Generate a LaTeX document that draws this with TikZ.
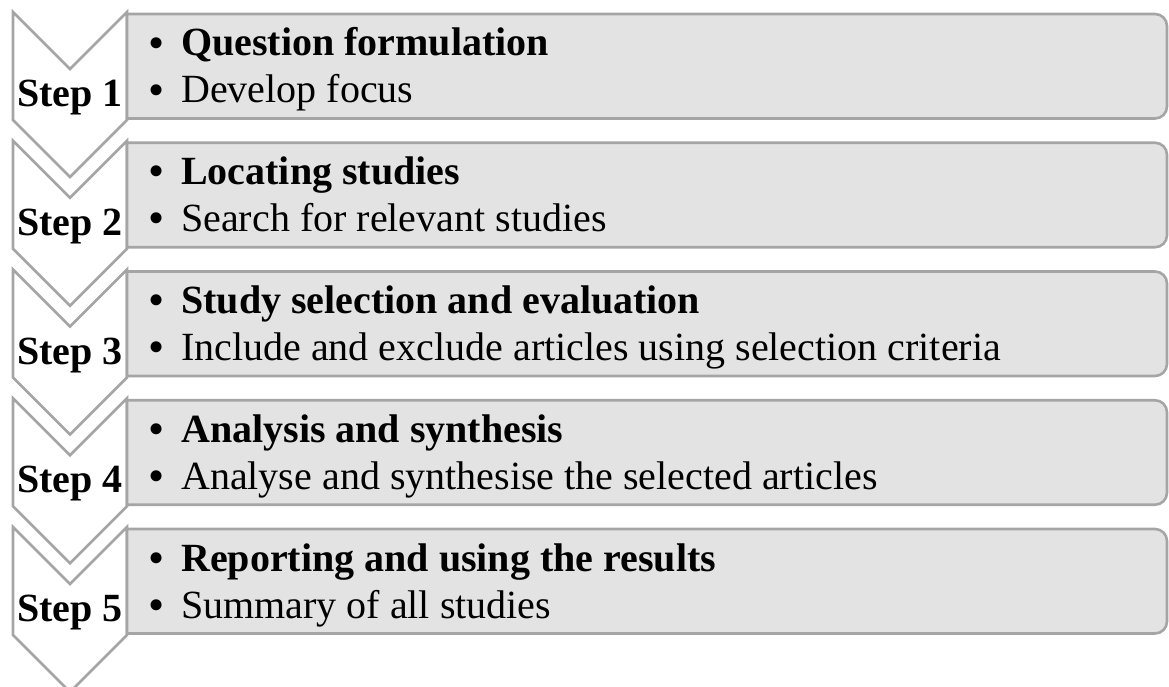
\documentclass[tikz,border=0pt]{standalone}
\usepackage{fontspec}
\setmainfont{Liberation Serif}
\definecolor{edgegray}{HTML}{A5A5A5}
\definecolor{boxgray}{HTML}{E3E3E3}
\begin{document}
\begin{tikzpicture}[x=1pt,y=-1pt,
  chevron/.style={draw=edgegray,fill=white,line width=2.6pt,line join=miter},
  itembox/.style={draw=edgegray,fill=boxgray,line width=2.6pt},
  steplabel/.style={anchor=base,inner sep=0pt,font=\fontsize{40}{48}\selectfont\bfseries},
  bulletmark/.style={anchor=base,inner sep=0pt,font=\fontsize{46}{52}\selectfont},
  headtext/.style={anchor=base west,inner sep=0pt,font=\fontsize{40}{48}\selectfont\bfseries},
  bodytext/.style={anchor=base west,inner sep=0pt,font=\fontsize{40}{48}\selectfont}]
\useasboundingbox (0,0) rectangle (1169,687);
\foreach \i/\head/\body in {
  1/Question formulation/Develop focus,
  2/Locating studies/Search for relevant studies,
  3/Study selection and evaluation/Include and exclude articles using selection criteria,
  4/Analysis and synthesis/Analyse and synthesise the selected articles,
  5/Reporting and using the results/Summary of all studies}{
  \pgfmathsetmacro{\T}{12+(\i-1)*128.75}
  % chevron with a notch on top and a point below
  \draw[chevron] (13,\T) -- (70,\T+57) -- (127,\T) -- (127,\T+108)
        -- (70,\T+165) -- (13,\T+108) -- cycle;
  % grey box, rounded on its right side only
  \draw[itembox] (127,\T+2) [rounded corners=12pt] -- (1167,\T+2) -- (1167,\T+106.5)
        [sharp corners] -- (127,\T+106.5) -- cycle;
  \node[steplabel] (step\i) at (70,\T+94.5) {Step \i};
  \node[bulletmark] (ba\i) at (157,\T+46.2) {•};
  \node[headtext] (head\i) at (181,\T+44) {\head};
  \node[bulletmark] (bb\i) at (157,\T+93.2) {•};
  \node[bodytext] (body\i) at (181,\T+91) {\body};
}
\end{tikzpicture}
\end{document}
